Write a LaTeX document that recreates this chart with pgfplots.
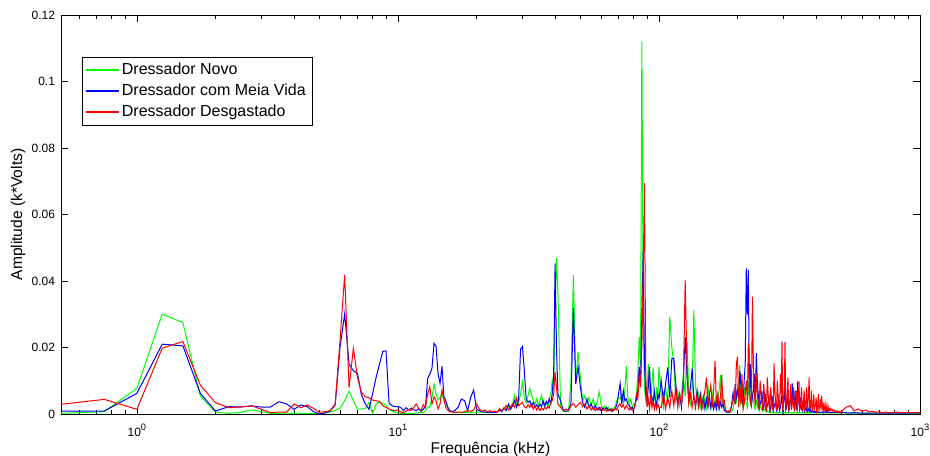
\documentclass[border=0pt]{standalone}
\usepackage{fontspec}
\setmainfont{Liberation Sans}
\usepackage{pgfplots}
\usepackage{pgfplotstable}
\pgfplotsset{compat=1.18}
\definecolor{mgreen}{rgb}{0,1,0}
\definecolor{mblue}{rgb}{0,0,1}
\definecolor{mred}{rgb}{1,0,0}
\newcommand\dec[1]{10\raisebox{4.5pt}{\fontsize{7}{8}\selectfont #1}}

\pgfplotstableread{
f g b r
0.512 0.0002 0.0009 0.0029
0.75 0.0007 0.0009 0.0044
1.00 0.0077 0.0062 0.0014
1.25 0.0300 0.0210 0.0198
1.50 0.0275 0.0205 0.0218
1.75 0.0054 0.0062 0.0087
2.00 0.0006 0.0009 0.0034
2.25 0.0002 0.0022 0.0019
2.50 0.0005 0.0021 0.0021
2.75 0.0012 0.0024 0.0025
3.00 0.0007 0.0021 0.0014
3.25 0.0002 0.0021 0.0004
3.50 0.0002 0.0037 0.0006
3.75 0.0003 0.0030 0.0006
4.00 0.0003 0.0014 0.0030
4.25 0.0002 0.0027 0.0019
4.50 0.0002 0.0022 0.0027
4.75 0.0002 0.0007 0.0017
5.00 0.0002 0.0000 0.0005
5.25 0.0003 0.0003 0.0007
5.50 0.0006 0.0009 0.0010
5.75 0.0011 0.0027 0.0030
6.00 0.0017 0.0200 0.0220
6.25 0.0040 0.0301 0.0418
6.50 0.0069 0.0150 0.0079
6.75 0.0040 0.0130 0.0198
7.00 0.0015 0.0122 0.0110
7.25 0.0015 0.0057 0.0065
7.50 0.0017 0.0030 0.0052
7.75 0.0035 0.0014 0.0049
8.00 0.0002 0.0062 0.0042
8.25 0.0030 0.0110 0.0040
8.50 0.0037 0.0150 0.0038
8.75 0.0032 0.0188 0.0025
9.00 0.0027 0.0190 0.0020
9.25 0.0014 0.0032 0.0015
9.50 0.0008 0.0025 0.0012
9.75 0.0005 0.0022 0.0010
10.00 0.0003 0.0022 0.0012
10.25 0.0002 0.0020 0.0006
10.50 0.0002 0.0010 0.0004
10.75 0.0002 0.0019 0.0008
11.00 0.0002 0.0012 0.0014
11.25 0.0002 0.0018 0.0010
11.50 0.0002 0.0013 0.0020
11.75 0.0003 0.0010 0.0030
12.00 0.0004 0.0016 0.0017
12.25 0.0005 0.0008 0.0010
12.50 0.0004 0.0014 0.0028
12.75 0.0010 0.0022 0.0020
13.00 0.0022 0.0107 0.0060
13.25 0.0020 0.0120 0.0082
13.50 0.0050 0.0137 0.0030
13.75 0.0089 0.0213 0.0052
14.00 0.0060 0.0203 0.0040
14.25 0.0042 0.0120 0.0015
14.50 0.0050 0.0092 0.0030
14.75 0.0062 0.0144 0.0072
15.00 0.0040 0.0052 0.0045
15.25 0.0032 0.0040 0.0020
15.50 0.0020 0.0022 0.0012
15.75 0.0010 0.0012 0.0008
16.00 0.0007 0.0007 0.0006
16.5 0.0005 0.0010 0.0005
17.0 0.0004 0.0020 0.0006
17.5 0.0004 0.0045 0.0005
18.0 0.0004 0.0040 0.0007
18.5 0.0005 0.0010 0.0010
19.0 0.0004 0.0050 0.0008
19.5 0.0006 0.0072 0.0012
20.0 0.0005 0.0015 0.0030
20.5 0.0006 0.0010 0.0015
21.0 0.0005 0.0007 0.0008
21.5 0.0004 0.0006 0.0012
22.0 0.0005 0.0005 0.0007
22.5 0.0004 0.0006 0.0010
23.0 0.0006 0.0004 0.0006
23.5 0.0005 0.0005 0.0009
24.0 0.0007 0.0006 0.0005
24.5 0.0009 0.0012 0.0016
25.0 0.0012 0.0007 0.0010
25.5 0.0020 0.0018 0.0015
26.0 0.0014 0.0010 0.0025
26.5 0.0022 0.0030 0.0012
27.0 0.0012 0.0015 0.0022
27.5 0.0030 0.0025 0.0030
28.0 0.0057 0.0040 0.0020
28.5 0.0025 0.0020 0.0048
29.0 0.0035 0.0045 0.0025
29.5 0.0060 0.0195 0.0030
30.0 0.0097 0.0203 0.0035
30.5 0.0050 0.0130 0.0022
31.0 0.0035 0.0045 0.0018
31.5 0.0055 0.0035 0.0028
32.0 0.0077 0.0040 0.0020
32.5 0.0060 0.0025 0.0030
33.0 0.0040 0.0035 0.0015
33.5 0.0030 0.0020 0.0025
34.0 0.0045 0.0028 0.0012
34.5 0.0025 0.0018 0.0020
35.0 0.0040 0.0030 0.0010
35.5 0.0057 0.0022 0.0018
36.0 0.0030 0.0040 0.0012
36.5 0.0022 0.0025 0.0020
37.0 0.0035 0.0038 0.0015
37.5 0.0020 0.0030 0.0022
38.0 0.0045 0.0045 0.0018
38.5 0.0060 0.0030 0.0035
39.0 0.0102 0.0060 0.0040
39.5 0.0080 0.0117 0.0060
40.0 0.0300 0.0453 0.0127
40.5 0.0469 0.0200 0.0080
41 0.0373 0.0060 0.0030
42 0.0020 0.0040 0.0020
43 0.0008 0.0010 0.0012
44 0.0007 0.0008 0.0015
45 0.0008 0.0012 0.0010
46 0.0097 0.0030 0.0025
47 0.0418 0.0318 0.0032
48 0.0100 0.0090 0.0020
49 0.0187 0.0142 0.0028
50 0.0110 0.0080 0.0035
51 0.0040 0.0035 0.0022
52 0.0055 0.0020 0.0030
53 0.0030 0.0045 0.0015
54 0.0050 0.0020 0.0025
55 0.0025 0.0030 0.0012
56 0.0045 0.0015 0.0020
57 0.0020 0.0025 0.0010
58 0.0035 0.0012 0.0018
59 0.0067 0.0020 0.0012
60 0.0030 0.0010 0.0020
61 0.0015 0.0018 0.0010
62 0.0025 0.0012 0.0015
63 0.0012 0.0020 0.0008
64 0.0020 0.0010 0.0012
65 0.0010 0.0015 0.0010
66 0.0018 0.0008 0.0015
67 0.0012 0.0012 0.0010
68 0.0025 0.0015 0.0018
69 0.0040 0.0030 0.0012
70 0.0050 0.0060 0.0025
71 0.0045 0.0092 0.0030
72 0.0060 0.0030 0.0020
73 0.0035 0.0070 0.0028
74 0.0070 0.0040 0.0015
75 0.0145 0.0045 0.0025
76 0.0050 0.0030 0.0018
77 0.0030 0.0025 0.0012
78 0.0045 0.0015 0.0020
79 0.0020 0.0020 0.0010
80 0.0030 0.0012 0.0015
81 0.0025 0.0030 0.0030
82 0.0060 0.0045 0.0060
83 0.0120 0.0070 0.0045
84 0.0233 0.0142 0.0117
85 0.0150 0.0090 0.0080
86 0.1120 0.0300 0.0200
87 0.0300 0.0488 0.0420
88 0.0080 0.0150 0.0694
89 0.0040 0.0060 0.0120
90 0.0060 0.0035 0.0020
91 0.0150 0.0080 0.0045
92 0.0070 0.0142 0.0015
93 0.0040 0.0060 0.0055
94 0.0090 0.0050 0.0020
95 0.0140 0.0035 0.0040
96 0.0050 0.0070 0.0015
97 0.0030 0.0040 0.0035
98 0.0080 0.0030 0.0015
99 0.0045 0.0060 0.0030
100 0.0142 0.0045 0.0020
102 0.0060 0.0100 0.0020
104 0.0020 0.0040 0.0060
106 0.0080 0.0090 0.0015
108 0.0030 0.0140 0.0050
110 0.0293 0.0050 0.0020
112 0.0200 0.0167 0.0070
114 0.0150 0.0167 0.0025
116 0.0040 0.0090 0.0080
118 0.0070 0.0030 0.0020
120 0.0025 0.0060 0.0060
122 0.0060 0.0020 0.0030
124 0.0120 0.0100 0.0080
126 0.0050 0.0233 0.0403
128 0.0218 0.0120 0.0150
130 0.0080 0.0040 0.0030
132 0.0030 0.0080 0.0060
134 0.0070 0.0137 0.0020
136 0.0313 0.0050 0.0055
138 0.0090 0.0020 0.0025
140 0.0030 0.0070 0.0060
142 0.0060 0.0025 0.0020
144 0.0020 0.0060 0.0050
146 0.0055 0.0020 0.0015
148 0.0020 0.0050 0.0045
150 0.0050 0.0015 0.0070
152 0.0020 0.0045 0.0110
154 0.0090 0.0020 0.0020
156 0.0030 0.0055 0.0060
158 0.0015 0.0020 0.0087
160 0.0060 0.0040 0.0020
162 0.0020 0.0015 0.0070
164 0.0045 0.0035 0.0160
166 0.0015 0.0015 0.0030
168 0.0050 0.0040 0.0060
170 0.0070 0.0015 0.0020
172 0.0117 0.0035 0.0050
174 0.0030 0.0020 0.0117
176 0.0050 0.0030 0.0030
178 0.0015 0.0010 0.0040
180 0.0008 0.0008 0.0010
182 0.0006 0.0005 0.0008
184 0.0005 0.0006 0.0010
186 0.0004 0.0005 0.0006
188 0.0006 0.0010 0.0012
190 0.0008 0.0030 0.0025
192 0.0015 0.0060 0.0040
194 0.0030 0.0040 0.0070
196 0.0060 0.0090 0.0030
198 0.0040 0.0050 0.0152
200 0.0080 0.0070 0.0172
202 0.0060 0.0050 0.0020
204 0.0147 0.0130 0.0080
206 0.0030 0.0090 0.0030
208 0.0040 0.0040 0.0120
210 0.0020 0.0030 0.0015
212 0.0080 0.0100 0.0030
214 0.0050 0.0150 0.0060
216 0.0030 0.0438 0.0100
218 0.0020 0.0300 0.0040
220 0.0100 0.0433 0.0213
222 0.0050 0.0060 0.0090
224 0.0030 0.0150 0.0040
226 0.0020 0.0030 0.0020
228 0.0060 0.0050 0.0353
230 0.0040 0.0070 0.0150
232 0.0020 0.0120 0.0060
234 0.0015 0.0040 0.0025
236 0.0040 0.0183 0.0120
238 0.0030 0.0100 0.0070
240 0.0015 0.0060 0.0020
242 0.0010 0.0020 0.0015
244 0.0025 0.0030 0.0100
246 0.0020 0.0040 0.0060
248 0.0010 0.0070 0.0030
250 0.0008 0.0015 0.0012
252 0.0015 0.0020 0.0090
254 0.0012 0.0040 0.0050
256 0.0008 0.0060 0.0015
258 0.0006 0.0015 0.0010
260 0.0010 0.0025 0.0110
262 0.0008 0.0035 0.0060
264 0.0005 0.0050 0.0025
266 0.0004 0.0010 0.0012
268 0.0008 0.0015 0.0080
270 0.0006 0.0030 0.0045
272 0.0004 0.0045 0.0020
274 0.0004 0.0012 0.0010
276 0.0006 0.0020 0.0152
278 0.0005 0.0030 0.0070
280 0.0003 0.0040 0.0030
282 0.0003 0.0010 0.0012
284 0.0005 0.0015 0.0100
286 0.0004 0.0035 0.0055
288 0.0003 0.0050 0.0020
290 0.0003 0.0012 0.0015
292 0.0005 0.0020 0.0120
294 0.0004 0.0040 0.0060
296 0.0003 0.0060 0.0218
298 0.0003 0.0015 0.0010
300 0.0004 0.0030 0.0030
302 0.0004 0.0050 0.0070
304 0.0003 0.0080 0.0218
306 0.0003 0.0012 0.0012
308 0.0004 0.0020 0.0040
310 0.0004 0.0035 0.0060
312 0.0003 0.0050 0.0110
314 0.0003 0.0010 0.0015
316 0.0004 0.0015 0.0020
318 0.0004 0.0040 0.0050
320 0.0003 0.0060 0.0090
322 0.0003 0.0020 0.0012
324 0.0004 0.0092 0.0030
326 0.0004 0.0045 0.0045
328 0.0003 0.0030 0.0080
330 0.0003 0.0015 0.0010
332 0.0004 0.0070 0.0015
334 0.0004 0.0040 0.0040
336 0.0003 0.0020 0.0070
338 0.0003 0.0012 0.0010
340 0.0004 0.0098 0.0030
342 0.0004 0.0050 0.0050
344 0.0003 0.0030 0.0098
346 0.0003 0.0012 0.0012
348 0.0004 0.0050 0.0020
350 0.0004 0.0030 0.0045
352 0.0003 0.0015 0.0080
354 0.0003 0.0010 0.0010
356 0.0004 0.0040 0.0025
358 0.0004 0.0025 0.0040
360 0.0003 0.0012 0.0070
362 0.0003 0.0008 0.0010
364 0.0004 0.0030 0.0015
366 0.0004 0.0020 0.0045
368 0.0003 0.0010 0.0080
370 0.0003 0.0007 0.0010
372 0.0004 0.0020 0.0030
374 0.0004 0.0012 0.0060
376 0.0003 0.0008 0.0110
378 0.0003 0.0006 0.0012
380 0.0004 0.0015 0.0020
382 0.0004 0.0010 0.0035
384 0.0003 0.0006 0.0070
386 0.0003 0.0005 0.0010
388 0.0004 0.0010 0.0015
390 0.0004 0.0008 0.0030
392 0.0003 0.0006 0.0060
394 0.0003 0.0005 0.0010
396 0.0004 0.0008 0.0025
398 0.0004 0.0007 0.0025
400 0.0003 0.0005 0.0050
402 0.0003 0.0005 0.0008
404 0.0004 0.0007 0.0015
406 0.0004 0.0006 0.0030
408 0.0003 0.0005 0.0060
410 0.0003 0.0005 0.0008
412 0.0004 0.0006 0.0020
414 0.0004 0.0006 0.0025
416 0.0003 0.0005 0.0045
418 0.0003 0.0005 0.0010
420 0.0004 0.0006 0.0055
422 0.0004 0.0006 0.0030
424 0.0003 0.0005 0.0015
426 0.0003 0.0005 0.0008
428 0.0004 0.0006 0.0035
430 0.0004 0.0006 0.0020
432 0.0003 0.0005 0.0010
434 0.0003 0.0005 0.0008
436 0.0004 0.0006 0.0030
438 0.0004 0.0006 0.0018
440 0.0003 0.0015 0.0012
442 0.0003 0.0005 0.0007
444 0.0004 0.0005 0.0025
446 0.0004 0.0006 0.0015
448 0.0003 0.0005 0.0008
452 0.0004 0.0004 0.0018
456 0.0003 0.0005 0.0010
460 0.0004 0.0004 0.0015
464 0.0003 0.0005 0.0008
468 0.0004 0.0004 0.0012
472 0.0003 0.0005 0.0007
476 0.0004 0.0004 0.0010
480 0.0003 0.0005 0.0006
484 0.0004 0.0004 0.0009
488 0.0003 0.0005 0.0005
492 0.0004 0.0004 0.0008
496 0.0003 0.0005 0.0005
500 0.0004 0.0004 0.0007
520 0.0003 0.0004 0.0020
540 0.0003 0.0003 0.0025
560 0.0003 0.0004 0.0010
580 0.0003 0.0003 0.0015
600 0.0003 0.0003 0.0008
620 0.0003 0.0003 0.0012
640 0.0003 0.0003 0.0006
660 0.0003 0.0003 0.0008
680 0.0003 0.0003 0.0005
700 0.0003 0.0003 0.0007
720 0.0003 0.0003 0.0004
740 0.0003 0.0003 0.0006
760 0.0003 0.0003 0.0004
780 0.0003 0.0003 0.0005
800 0.0003 0.0003 0.0004
820 0.0003 0.0003 0.0006
840 0.0003 0.0003 0.0004
860 0.0003 0.0003 0.0005
880 0.0003 0.0003 0.0004
900 0.0003 0.0003 0.0005
920 0.0003 0.0003 0.0004
940 0.0003 0.0003 0.0005
960 0.0003 0.0003 0.0004
980 0.0003 0.0003 0.0005
1000 0.0003 0.0003 0.0004
}\spec

\begin{document}
\begin{tikzpicture}
\useasboundingbox (-45.75pt,-31.5pt) rectangle (651.75pt,310.5pt);
\begin{axis}[
  at={(0pt,0pt)}, anchor=south west,
  scale only axis, width=644.25pt, height=299.25pt,
  xmode=log, xmin=0.512, xmax=1000, ymin=0, ymax=0.12,
  axis line style={line width=0.6pt, black},
  every tick/.style={black, line width=0.5pt},
  major tick length=5.5pt, minor tick length=3pt,
  tick align=inside,
  xtick={1,10,100,1000},
  xticklabels={\dec{0},\dec{1},\dec{2},\dec{3}},
  minor xtick={0.6,0.7,0.8,0.9,2,3,4,5,6,7,8,9,20,30,40,50,60,70,80,90,200,300,400,500,600,700,800,900},
  ytick={0,0.02,0.04,0.06,0.08,0.1,0.12},
  yticklabels={0,0.02,0.04,0.06,0.08,0.1,0.12},
  scaled y ticks=false,
  tick label style={font=\fontsize{9}{10.8}\selectfont},
  xticklabel style={anchor=base, yshift=-17pt},
  yticklabel style={xshift=-1pt},
  xlabel={Frequência (kHz)},
  ylabel={Amplitude (k*Volts)},
  label style={font=\fontsize{11.7}{14}\selectfont},
  xlabel style={at={(axis description cs:0.5,-0.0985)}, anchor=base},
  ylabel style={at={(axis description cs:-0.05,0.5)}, anchor=center},
  legend style={at={(0.0244,0.895)}, anchor=north west, draw=black,
    font=\fontsize{12}{14.4}\selectfont, inner xsep=3pt, inner ysep=2.5pt,
    row sep=1.6pt},
  legend cell align=left,
  legend image code/.code={\fill[#1] (0pt,-0.5pt) rectangle (24pt,0.5pt);},
]
\addplot[color=mgreen, line width=0.75pt, mark=none] table[x=f, y=g]{\spec};
\addplot[color=mblue, line width=0.75pt, mark=none] table[x=f, y=b]{\spec};
\addplot[color=mred, line width=0.75pt, mark=none] table[x=f, y=r]{\spec};
\legend{Dressador Novo, Dressador com Meia Vida, Dressador Desgastado}
\end{axis}
\end{tikzpicture}
\end{document}
